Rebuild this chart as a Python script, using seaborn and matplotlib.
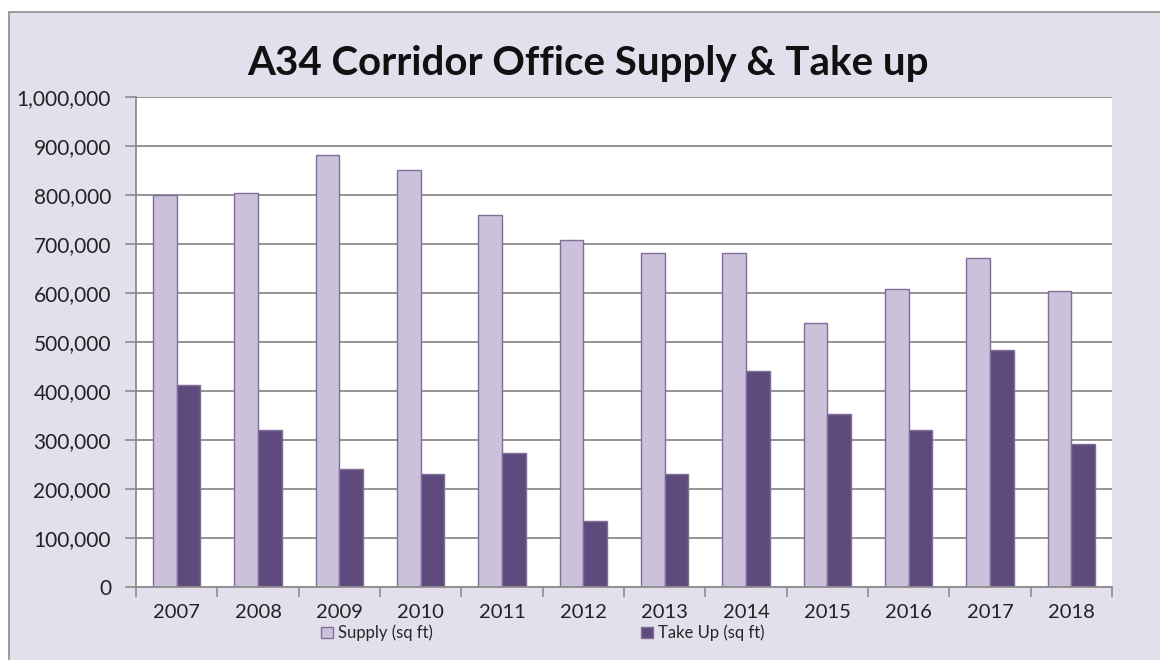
import matplotlib
matplotlib.use("Agg")
import matplotlib.pyplot as plt
import seaborn as sns
import pandas as pd
import numpy as np
from matplotlib.patches import Rectangle
from matplotlib.ticker import FuncFormatter, FixedLocator

years = ["2007", "2008", "2009", "2010", "2011", "2012",
         "2013", "2014", "2015", "2016", "2017", "2018"]
supply = [800000, 804000, 882000, 851000, 759000, 708000,
          682000, 682000, 539000, 608000, 671000, 604000]
take_up = [412000, 320000, 241000, 231000, 273000, 135000,
           231000, 441000, 353000, 320000, 484000, 292000]
series_names = ["Supply (sq ft)", "Take Up (sq ft)"]
title = "A34 Corridor Office Supply & Take up"

df = pd.DataFrame({
    "Year": years * 2,
    "Value": supply + take_up,
    "Series": [series_names[0]] * len(years) + [series_names[1]] * len(years),
})

sns.set_theme(style="white")
plt.rcParams['font.family'] = ['Lato', 'DejaVu Sans']

bg = "#e4dfec"
fig = plt.figure(figsize=(11.6, 6.6), dpi=100, facecolor="white")
fig.patches.append(Rectangle((9/1160, -0.01), 1.0, 1 - 12/660 + 0.01,
                             transform=fig.transFigure, facecolor=bg,
                             edgecolor="#8c8c8c", linewidth=1.2, zorder=-1))

ax = fig.add_axes([136/1160, 1 - 587/660, (1112 - 136)/1160, (587 - 97)/660])
ax.set_facecolor("white")

palette = {series_names[0]: "#ccc1da", series_names[1]: "#5f4a7e"}
sns.barplot(data=df, x="Year", y="Value", hue="Series", palette=palette,
            width=0.58, dodge=True, saturation=1, ax=ax, legend=True,
            edgecolor="#7f6e98", linewidth=1.0)

ax.set_ylim(0, 1000000)
ax.set_xlim(-0.5, len(years) - 0.5)
ax.yaxis.set_major_locator(FixedLocator(np.arange(0, 1000001, 100000)))
ax.yaxis.set_major_formatter(FuncFormatter(lambda v, p: f"{int(v):,}"))
ax.grid(axis="y", color="#8c8c8c", linewidth=1.3)
ax.set_axisbelow(True)
ax.set_xlabel("")
ax.set_ylabel("")

for s in ["top", "right"]:
    ax.spines[s].set_visible(False)
for s in ["left", "bottom"]:
    ax.spines[s].set_color("#8c8c8c")
    ax.spines[s].set_linewidth(1.3)

ax.tick_params(axis="y", which="major", direction="out", length=8, width=1.2,
               color="#8c8c8c", labelsize=15, labelcolor="#222222", pad=10, left=True)
ax.tick_params(axis="x", which="major", length=0, labelsize=14.5,
               labelcolor="#222222", pad=12)
ax.xaxis.set_minor_locator(FixedLocator(np.arange(-0.5, len(years), 1.0)))
ax.tick_params(axis="x", which="minor", direction="out", length=7, width=1.2,
               color="#8c8c8c", bottom=True)

leg = ax.get_legend()
handles, labels = ax.get_legend_handles_labels()
leg.remove()
fig.legend(handles, labels, loc="center", bbox_to_anchor=(543/1160, 1 - 633/660),
           ncol=2, frameon=False, fontsize=12, columnspacing=12.5,
           handlelength=0.7, handleheight=0.7, handletextpad=0.3)

fig.text(588/1160, 1 - 64/660, title, ha="center", va="center",
         fontsize=29, fontweight="bold", color="#111111")

fig.savefig("out.png", dpi=100, facecolor=fig.get_facecolor())
